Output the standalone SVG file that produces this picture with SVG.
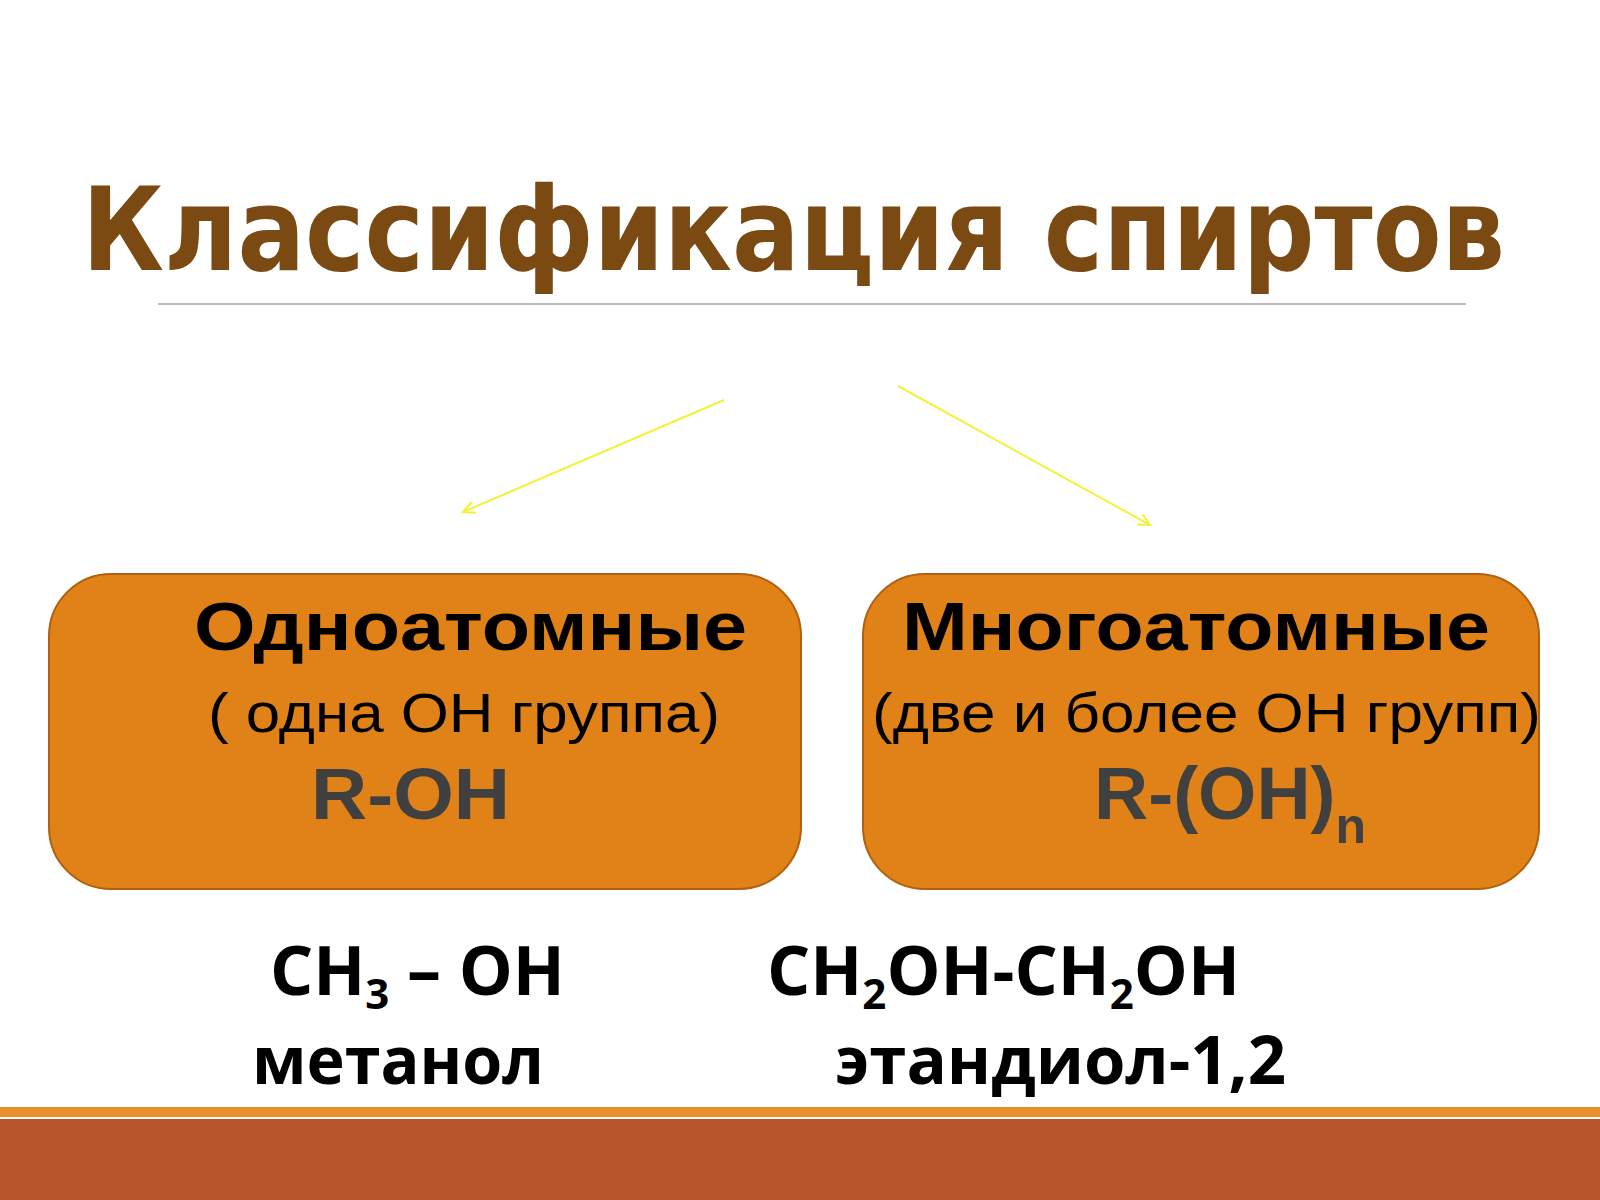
<svg xmlns="http://www.w3.org/2000/svg" width="1600" height="1200" viewBox="0 0 1600 1200">
<defs>
<style>
.b{font-family:"Liberation Sans",Arial,sans-serif;font-weight:bold;fill:#000}
.r{font-family:"Liberation Sans",Arial,sans-serif;fill:#000}
.g{font-family:"Liberation Sans",Arial,sans-serif;font-weight:bold;fill:#404040}
.o{font-family:"Open Sans","DejaVu Sans",sans-serif;font-weight:bold;fill:#000}
.box{fill:#e08217;stroke:#b0600e;stroke-width:2}
.ar{stroke:#f2f23a;stroke-width:2;fill:none}
</style>
<marker id="ah" markerWidth="14" markerHeight="14" refX="12" refY="7" orient="auto" markerUnits="userSpaceOnUse"><path d="M0,1 L12,7 L0,13" fill="none" stroke="#f2f23a" stroke-width="2"/></marker>
</defs>
<rect width="1600" height="1200" fill="#fff"/>
<text x="82" y="270" font-family="'DejaVu Sans',sans-serif" font-weight="bold" font-size="115" fill="#7a4a12" textLength="1423" lengthAdjust="spacingAndGlyphs">Классификация спиртов</text>
<line x1="158" y1="304" x2="1466" y2="304" stroke="#a0a0a0" stroke-width="1.5"/>
<g id="connectors">
<line class="ar" x1="724" y1="400" x2="463" y2="512" marker-end="url(#ah)"/>
<line class="ar" x1="898" y1="386" x2="1150" y2="525" marker-end="url(#ah)"/>
</g>
<g id="node1">
<rect class="box" x="49" y="574" width="752" height="315" rx="62"/>
<text class="b" x="194" y="650" font-size="68" textLength="553" lengthAdjust="spacingAndGlyphs">Одноатомные</text>
<text class="r" x="208" y="732" font-size="55" textLength="512" lengthAdjust="spacingAndGlyphs">( одна ОН группа)</text>
<text class="g" x="311" y="819" font-size="73" textLength="199" lengthAdjust="spacingAndGlyphs">R-OH</text>
</g>
<g id="node2">
<rect class="box" x="863" y="574" width="676" height="315" rx="62"/>
<text class="b" x="902" y="650" font-size="68" textLength="588" lengthAdjust="spacingAndGlyphs">Многоатомные</text>
<text class="r" x="872" y="732" font-size="55" textLength="669" lengthAdjust="spacingAndGlyphs">(две и более ОН групп)</text>
<text class="g" x="1094" y="819" font-size="75">R-(OH)<tspan font-size="50" dy="24">n</tspan></text>
</g>
<g id="examples">
<text class="o" x="270" y="995" font-size="68">CH<tspan font-size="42" dy="14">3</tspan><tspan dy="-14"> – OH</tspan></text>
<text class="o" x="767" y="995" font-size="68">CH<tspan font-size="42" dy="14">2</tspan><tspan dy="-14">OH-CH</tspan><tspan font-size="42" dy="14">2</tspan><tspan dy="-14">OH</tspan></text>
<text class="o" x="252" y="1084" font-size="66" textLength="292" lengthAdjust="spacingAndGlyphs">метанол</text>
<text class="o" x="835" y="1084" font-size="66" textLength="451" lengthAdjust="spacingAndGlyphs">этандиол-1,2</text>
</g>
<rect x="0" y="1107" width="1600" height="10" fill="#e8902a"/>
<rect x="0" y="1119" width="1600" height="81" fill="#b9552b"/>
</svg>
